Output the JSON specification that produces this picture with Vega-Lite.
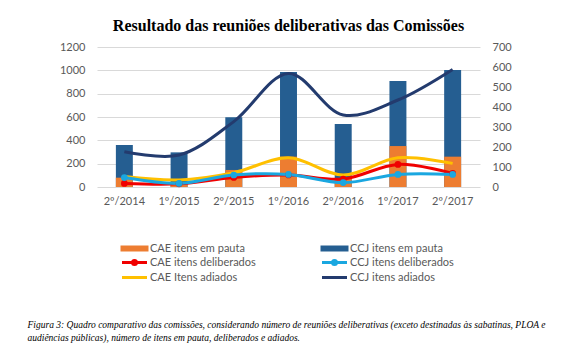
{
  "$schema": "https://vega.github.io/schema/vega-lite/v6.json",
  "width": 383,
  "height": 140,
  "autosize": "none",
  "padding": {"left": 97, "top": 47, "right": 85, "bottom": 175},
  "background": "white",
  "config": {
    "view": {"stroke": null},
    "axis": {"labelFont": "Lato", "labelFontSize": 11, "labelColor": "#595959", "ticks": false, "domain": false, "labelOverlap": false}
  },
  "title": {
    "text": "Resultado das reuniões deliberativas das Comissões",
    "font": "Liberation Serif",
    "fontSize": 16,
    "fontWeight": "bold",
    "color": "#000000",
    "anchor": "middle",
    "offset": 7
  },
  "datasets": {
    "bars": [
      {"periodo": "2º/2014", "serie": "CCJ itens em pauta", "valor": 360},
      {"periodo": "1º/2015", "serie": "CCJ itens em pauta", "valor": 297},
      {"periodo": "2º/2015", "serie": "CCJ itens em pauta", "valor": 597},
      {"periodo": "1º/2016", "serie": "CCJ itens em pauta", "valor": 986},
      {"periodo": "2º/2016", "serie": "CCJ itens em pauta", "valor": 540},
      {"periodo": "1º/2017", "serie": "CCJ itens em pauta", "valor": 909},
      {"periodo": "2º/2017", "serie": "CCJ itens em pauta", "valor": 1003},
      {"periodo": "2º/2014", "serie": "CAE itens em pauta", "valor": 80},
      {"periodo": "1º/2015", "serie": "CAE itens em pauta", "valor": 40},
      {"periodo": "2º/2015", "serie": "CAE itens em pauta", "valor": 146},
      {"periodo": "1º/2016", "serie": "CAE itens em pauta", "valor": 260},
      {"periodo": "2º/2016", "serie": "CAE itens em pauta", "valor": 70},
      {"periodo": "1º/2017", "serie": "CAE itens em pauta", "valor": 351},
      {"periodo": "2º/2017", "serie": "CAE itens em pauta", "valor": 260}
    ],
    "lines": [
      {"periodo": "2º/2014", "serie": "CCJ itens adiados", "valor": 176},
      {"periodo": "1º/2015", "serie": "CCJ itens adiados", "valor": 160},
      {"periodo": "2º/2015", "serie": "CCJ itens adiados", "valor": 327},
      {"periodo": "1º/2016", "serie": "CCJ itens adiados", "valor": 568},
      {"periodo": "2º/2016", "serie": "CCJ itens adiados", "valor": 360},
      {"periodo": "1º/2017", "serie": "CCJ itens adiados", "valor": 435},
      {"periodo": "2º/2017", "serie": "CCJ itens adiados", "valor": 588},
      {"periodo": "2º/2014", "serie": "CAE Itens adiados", "valor": 52},
      {"periodo": "1º/2015", "serie": "CAE Itens adiados", "valor": 35},
      {"periodo": "2º/2015", "serie": "CAE Itens adiados", "valor": 72},
      {"periodo": "1º/2016", "serie": "CAE Itens adiados", "valor": 146},
      {"periodo": "2º/2016", "serie": "CAE Itens adiados", "valor": 60},
      {"periodo": "1º/2017", "serie": "CAE Itens adiados", "valor": 146},
      {"periodo": "2º/2017", "serie": "CAE Itens adiados", "valor": 118},
      {"periodo": "2º/2014", "serie": "CAE itens deliberados", "valor": 18},
      {"periodo": "1º/2015", "serie": "CAE itens deliberados", "valor": 16},
      {"periodo": "2º/2015", "serie": "CAE itens deliberados", "valor": 48},
      {"periodo": "1º/2016", "serie": "CAE itens deliberados", "valor": 60},
      {"periodo": "2º/2016", "serie": "CAE itens deliberados", "valor": 40},
      {"periodo": "1º/2017", "serie": "CAE itens deliberados", "valor": 113},
      {"periodo": "2º/2017", "serie": "CAE itens deliberados", "valor": 68},
      {"periodo": "2º/2014", "serie": "CCJ itens deliberados", "valor": 47},
      {"periodo": "1º/2015", "serie": "CCJ itens deliberados", "valor": 18},
      {"periodo": "2º/2015", "serie": "CCJ itens deliberados", "valor": 60},
      {"periodo": "1º/2016", "serie": "CCJ itens deliberados", "valor": 63},
      {"periodo": "2º/2016", "serie": "CCJ itens deliberados", "valor": 22},
      {"periodo": "1º/2017", "serie": "CCJ itens deliberados", "valor": 63},
      {"periodo": "2º/2017", "serie": "CCJ itens deliberados", "valor": 63}
    ]
  },
  "encoding": {
    "x": {
      "field": "periodo",
      "type": "nominal",
      "sort": ["2º/2014", "1º/2015", "2º/2015", "1º/2016", "2º/2016", "1º/2017", "2º/2017"],
      "scale": {"paddingInner": 0, "paddingOuter": 0},
      "axis": {
        "labelAngle": 0,
        "labelPadding": 8,
        "grid": false,
        "title": ["Figura 3: Quadro comparativo das comissões, considerando número de reuniões deliberativas (exceto destinadas às sabatinas, PLOA e", "audiências públicas), número de itens em pauta, deliberados e adiados."],
        "titleFont": "Liberation Serif",
        "titleFontSize": 9.5,
        "titleFontStyle": "italic",
        "titleFontWeight": "normal",
        "titleColor": "#000000",
        "titleAlign": "left",
        "titleAnchor": "start",
        "titleBaseline": "alphabetic",
        "titleX": -70,
        "titleY": 140,
        "titleLineHeight": 13
      }
    }
  },
  "layer": [
    {
      "data": {"name": "bars"},
      "mark": {"type": "bar", "width": {"band": 0.31}},
      "encoding": {
        "y": {
          "field": "valor",
          "type": "quantitative",
          "stack": null,
          "scale": {"domain": [0, 1200]},
          "axis": {"orient": "left", "values": [0, 200, 400, 600, 800, 1000, 1200], "format": "d", "title": null, "labelPadding": 12, "grid": true, "gridColor": "#d9d9d9", "gridWidth": 1}
        },
        "color": {
          "field": "serie",
          "type": "nominal",
          "scale": {
            "domain": ["CAE itens em pauta", "CCJ itens em pauta", "CAE itens deliberados", "CCJ itens deliberados", "CAE Itens adiados", "CCJ itens adiados"],
            "range": ["#ED7D31", "#255E91", "#F00000", "#1AA7E0", "#FFC000", "#233B6E"]
          },
          "legend": {
            "orient": "none",
            "legendX": 31,
            "legendY": 195,
            "title": null,
            "columns": 2,
            "direction": "horizontal",
            "columnPadding": 60,
            "rowPadding": -5,
            "padding": 0,
            "symbolSize": 100,
            "symbolOffset": 0,
            "labelOffset": 9,
            "labelFont": "Lato",
            "labelFontSize": 11,
            "labelColor": "#595959",
            "labelLimit": 300,
            "encode": {
              "symbols": {
                "update": {
                  "shape": {"signal": "indexof(datum.value, 'pauta') >= 0 ? 'M-2.5,-0.3H2.5V0.3H-2.5Z' : (indexof(datum.value, 'deliberados') >= 0 ? 'M-2.5,0H2.5M0.4,0A0.4,0.4 0 1,1 -0.4,0A0.4,0.4 0 1,1 0.4,0' : 'M-2.5,0H2.5')"},
                  "fill": {"scale": "color", "field": "value"},
                  "stroke": {"scale": "color", "field": "value"},
                  "strokeWidth": {"value": 3},
                  "opacity": {"value": 1},
                  "fillOpacity": {"value": 1},
                  "strokeOpacity": {"value": 1}
                }
              }
            }
          }
        }
      }
    },
    {
      "data": {"name": "lines"},
      "encoding": {
        "y": {
          "field": "valor",
          "type": "quantitative",
          "scale": {"domain": [0, 700]},
          "axis": {"orient": "right", "values": [0, 100, 200, 300, 400, 500, 600, 700], "format": "d", "title": null, "labelPadding": 12, "grid": false, "labelOverlap": false}
        },
        "color": {"field": "serie", "type": "nominal"}
      },
      "layer": [
        {
          "mark": {"type": "line", "interpolate": "catmull-rom", "strokeWidth": 3}
        },
        {
          "transform": [{"filter": "indexof(datum.serie, 'deliberados') >= 0"}],
          "mark": {"type": "point", "filled": true, "size": 45, "opacity": 1}
        }
      ]
    }
  ],
  "resolve": {"scale": {"y": "independent"}}
}
